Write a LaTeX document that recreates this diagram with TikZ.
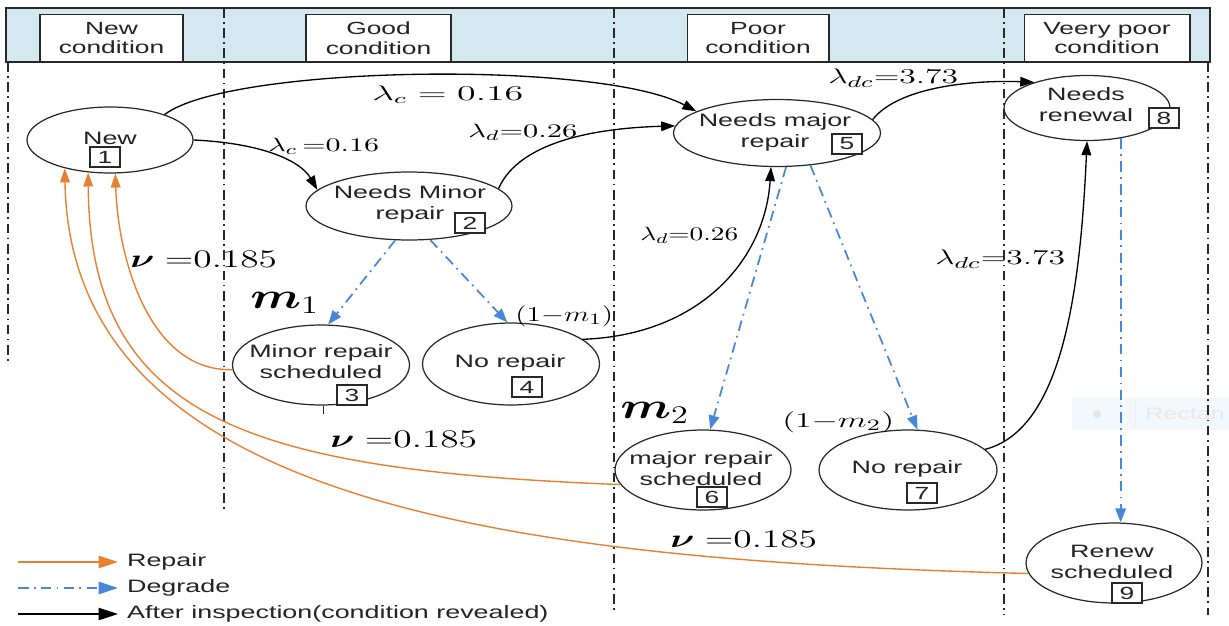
\documentclass[tikz,border=0pt]{standalone}
\usepackage{fontspec}
\setmainfont[FakeStretch=1.5]{Liberation Sans}
\usepackage{bm}
\usepackage{graphicx}
\usetikzlibrary{shapes.geometric,arrows.meta}

\definecolor{hdrblue}{RGB}{211,233,239}
\definecolor{repairc}{RGB}{232,128,50}
\definecolor{degradec}{RGB}{72,134,218}
\definecolor{txtc}{RGB}{35,35,35}
\definecolor{linec}{RGB}{40,40,40}

% 横向拉宽的数学标注
\newcommand{\ratelab}[3]{\scalebox{#1}[1]{\fontsize{#2}{#2}\selectfont$#3$}}

\begin{document}
\begin{tikzpicture}[x=0.02cm, y=-0.02cm,
    state/.style={draw=linec, ellipse, line width=0.7pt, inner sep=0pt},
    stxt/.style={text=txtc, align=center, inner sep=0pt, font=\fontsize{10.2}{11.9}\selectfont},
    numbox/.style={draw=linec, line width=0.6pt, fill=white, minimum width=0.6cm, minimum height=0.4cm, inner sep=0pt, text=txtc, font=\fontsize{10}{12}\selectfont},
    hdr/.style={draw=linec, fill=white, line width=0.6pt, align=center, text=txtc, font=\fontsize{10}{11.3}\selectfont, minimum height=0.94cm, anchor=south},
    sep/.style={line width=0.9pt, draw=linec, dash pattern=on 5.5pt off 2.5pt on 1pt off 2.5pt},
    inspect/.style={draw=black, line width=0.75pt, -{Triangle[length=8pt,width=5.5pt]}},
    repair/.style={draw=repairc, line width=0.8pt, -{Triangle[length=8pt,width=5.5pt]}},
    degrade/.style={draw=degradec, line width=1pt, dash pattern=on 6pt off 3pt on 1pt off 3pt, -{Triangle[length=8pt,width=6pt]}},
    rate/.style={inner sep=0pt, anchor=west}
]
    \useasboundingbox (0,0) rectangle (1229,625);
    \clip (0,0) rectangle (1229,625);

    % 顶部状态栏
    \draw[fill=hdrblue, draw=linec, line width=0.8pt] (6,8) rectangle (1210,62);

    % 右侧残留的提示框
    \fill[fill={rgb,255:red,243;green,248;blue,252}] (1072,398) rectangle (1229,430);
    \draw[draw={rgb,255:red,232;green,238;blue,244}, line width=0.5pt] (1135,400) -- (1135,428);
    \fill[gray!20] (1097,414) circle (4);
    \node[anchor=west, inner sep=0pt, text=gray!18, font=\fontsize{9.5}{12}\selectfont] (tip) at (1145,414) {Rectan};

    % 竖直分隔线
    \foreach \x/\ya/\yb in {8/62/362, 224/8/510, 614/8/612, 1004/8/615, 1208/62/615}
        \draw[sep] (\x,\ya) -- (\x,\yb);

    % 各阶段标题
    \node[hdr, minimum width=2.86cm] (h1) at (111.5,62) {New\\condition};
    \node[hdr, minimum width=2.90cm] (h2) at (378.5,62) {Good\\condition};
    \node[hdr, minimum width=2.84cm] (h3) at (758,62) {Poor\\condition};
    \node[hdr, minimum width=3.32cm] (h4) at (1107,62) {Veery poor\\condition};

    % 状态椭圆
    \node[state, minimum width=3.32cm, minimum height=1.32cm] (n1) at (110,140) {};
    \node[state, minimum width=4.12cm, minimum height=1.36cm] (n2) at (409,206) {};
    \node[state, minimum width=3.54cm, minimum height=1.60cm] (n3) at (321,365) {};
    \node[state, minimum width=3.54cm, minimum height=1.64cm] (n4) at (511,364) {};
    \node[state, minimum width=4.14cm, minimum height=1.34cm] (n5) at (777,133) {};
    \node[state, minimum width=3.52cm, minimum height=1.60cm] (n6) at (703,470) {};
    \node[state, minimum width=3.56cm, minimum height=1.60cm] (n7) at (908,470) {};
    \node[state, minimum width=3.32cm, minimum height=1.30cm] (n8) at (1087,108) {};
    \node[state, minimum width=3.52cm, minimum height=1.60cm] (n9) at (1114,563) {};

    % 状态文字
    \node[stxt] (t1) at (110,138) {New};
    \node[stxt] (t2) at (410,204) {Needs Minor\\repair};
    \node[stxt] (t3) at (321,362) {Minor repair\\scheduled};
    \node[stxt] (t4) at (510,363) {No repair};
    \node[stxt] (t5) at (775,132) {Needs major\\repair};
    \node[stxt] (t6) at (701,469) {major repair\\scheduled};
    \node[stxt] (t7) at (907,469) {No repair};
    \node[stxt] (t8) at (1086,105) {Needs\\renewal};
    \node[stxt] (t9) at (1112,562) {Renew\\scheduled};

    % 编号小方框
    \node[numbox] (b1) at (105,157) {1};
    \node[numbox] (b2) at (470,223) {2};
    \node[numbox] (b3) at (352,395) {3};
    \node[numbox] (b4) at (527,387) {4};
    \node[numbox] (b5) at (847,144) {5};
    \node[numbox] (b6) at (712,497) {6};
    \node[numbox] (b7) at (922,493) {7};
    \node[numbox] (b8) at (1164,118) {8};
    \node[numbox] (b9) at (1127,593) {9};
    \draw[draw=linec, line width=0.6pt] (n3.274) -- ++(0,8);

    % 检查后转移（黑色）
    \draw[inspect] (n1.25) .. controls (230,65) and (600,60) .. (n5.165);
    \draw[inspect] (n1.east) .. controls (260,143) and (300,160) .. (n2.170);
    \draw[inspect] (n2.11) .. controls (520,140) and (600,128) .. (n5.176);
    \draw[inspect] (n4.19) .. controls (700,335) and (765,260) .. (n5.260);
    \draw[inspect] (n5.8) .. controls (900,85) and (980,80) .. (n8.154);
    \draw[inspect] (n7.15) .. controls (1060,430) and (1080,300) .. (n8.south);

    % 退化（蓝色点划线）
    \draw[degrade] (n2.248) -- (n3.80);
    \draw[degrade] (n2.302) -- (n4.95);
    \draw[degrade] (n5.285) -- (n6.80);
    \draw[degrade] (n5.316) -- (n7.77);
    \draw[degrade] (n8.318) -- (n8.318 |- n9.north);

    % 维修（橙色）
    \draw[repair] (n3.183) .. controls (150,372) and (118,260) .. (n1.279);
    \draw[repair] (n6.190) .. controls (250,470) and (90,420) .. (n1.236);
    \draw[repair] (n9.187) .. controls (500,560) and (70,500) .. (n1.212);

    % 转移率标注
    \node[rate] (r1) at (372,95) {\ratelab{1.8}{12}{\lambda_c = 0.16}};
    \node[rate] (r2) at (268,146) {\ratelab{1.56}{11}{\lambda_c\,{=}0.16}};
    \node[rate] (r3) at (468,132) {\ratelab{1.58}{11}{\lambda_d{=}0.26}};
    \node[rate] (r4) at (640,235) {\ratelab{1.42}{11}{\lambda_d{=}0.26}};
    \node[rate] (r5) at (828,78) {\ratelab{1.6}{13}{\lambda_{dc}{=}3.73}};
    \node[rate] (r6) at (935,259) {\ratelab{1.6}{13}{\lambda_{dc}{=}3.73}};
    \node[rate] (r7) at (130,259) {\ratelab{1.48}{14}{\bm{\nu}\;{=}0.185}};
    \node[rate] (r8) at (330,439) {\ratelab{1.48}{14}{\bm{\nu}\;{=}0.185}};
    \node[rate] (r9) at (670,539) {\ratelab{1.48}{14}{\bm{\nu}\;{=}0.185}};
    \node[rate] (p1) at (250,303) {\ratelab{1.35}{20}{\bm{m}_{1}}};
    \node[rate] (q1) at (515,316) {\ratelab{1.4}{13}{(1{-}m_1)}};
    \node[rate] (p2) at (620,413) {\ratelab{1.35}{20}{\bm{m}_{2}}};
    \node[rate] (q2) at (782,422) {\ratelab{1.6}{13}{(1{-}m_2)}};

    % 图例
    \coordinate (lg1) at (18,562);
    \coordinate (lg2) at (18,588);
    \coordinate (lg3) at (18,614);
    \node[stxt, anchor=west, inner xsep=5pt] (lt1) at (118,562) {Repair};
    \node[stxt, anchor=west, inner xsep=5pt] (lt2) at (118,588) {Degrade};
    \node[stxt, anchor=west, inner xsep=5pt] (lt3) at (118,614) {After inspection(condition revealed)};
    \draw[repair, -{Triangle[length=11pt,width=7pt]}] (lg1) -- (lt1.west);
    \draw[degrade, -{Triangle[length=11pt,width=7pt]}] (lg2) -- (lt2.west);
    \draw[inspect, -{Triangle[length=11pt,width=7pt]}] (lg3) -- (lt3.west);
\end{tikzpicture}
\end{document}
